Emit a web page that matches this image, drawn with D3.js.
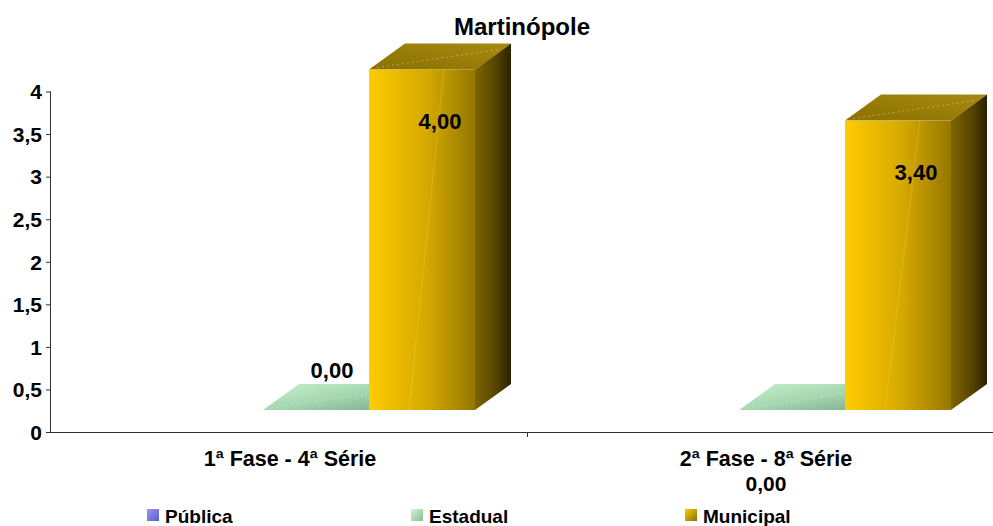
<!DOCTYPE html>
<html>
<head>
<meta charset="utf-8">
<script src="https://cdn.jsdelivr.net/npm/d3@7"></script>
<style>
  html, body { margin: 0; padding: 0; background: #fff; }
  svg { display: block; font-family: "Liberation Sans", Arial, sans-serif; font-weight: bold; }
</style>
</head>
<body>
<svg id="chart" width="993" height="526"></svg>
<script>
// Chart data
const title = "Martinópole";
const categories = ["1ª Fase - 4ª Série", "2ª Fase - 8ª Série"];
const seriesNames = ["Pública", "Estadual", "Municipal"];
const publica = [null, null];
const estadual = [0, 0];
const municipal = [4.0, 3.4];
const yTicks = [0, 0.5, 1, 1.5, 2, 2.5, 3, 3.5, 4];

const seriesValues = [publica, estadual, municipal];
const fmt = v => d3.format(".2f")(v).replace(".", ",");
const fmtTick = v => String(v).replace(".", ",");

const svg = d3.select("#chart");
const defs = svg.append("defs");

// Gradients for each series faces
function linGrad(id, x1, y1, x2, y2, stops) {
  const g = defs.append("linearGradient").attr("id", id)
    .attr("x1", x1).attr("y1", y1).attr("x2", x2).attr("y2", y2);
  stops.forEach(([o, c]) => g.append("stop").attr("offset", o).attr("stop-color", c));
}
linGrad("munFront", 0, 0, 1, 0, [[0, "#ffcc00"], [0.55, "#d4a800"], [1, "#957700"]]);
linGrad("munSide", 0, 0, 1, 0, [[0, "#7e6500"], [0.6, "#544300"], [1, "#2a2100"]]);
linGrad("munTop", 0, 1, 1, 0, [[0, "#8a7000"], [1, "#a68a10"]]);
linGrad("estTop", 0, 0, 1, 1, [[0, "#c6f0cc"], [0.5, "#a6d8b0"], [1, "#7aa88a"]]);
linGrad("pubLeg", 0, 0, 1, 1, [[0, "#9a9af0"], [1, "#5c5cc8"]]);
linGrad("estLeg", 0, 0, 1, 1, [[0, "#d0f4d4"], [1, "#88c098"]]);
linGrad("munLeg", 0, 0, 1, 1, [[0, "#ffcc00"], [1, "#8a6e00"]]);

const faceFill = {
  "Pública": { front: "#7070d8", side: "#4848a0", top: "#9090e8" },
  "Estadual": { front: "#a6d8b0", side: "#78a888", top: "url(#estTop)" },
  "Municipal": { front: "url(#munFront)", side: "url(#munSide)", top: "url(#munTop)" }
};
const legendFill = { "Pública": "url(#pubLeg)", "Estadual": "url(#estLeg)", "Municipal": "url(#munLeg)" };

// Scales
const plotLeft = 51, plotBottom = 432;
const y = d3.scaleLinear().domain([0, 4]).range([plotBottom, 91.5]);
const x0 = d3.scaleBand().domain(categories).range([plotLeft, 1003]);
const x1 = d3.scaleBand().domain(seriesNames).range([106, 424]);

// 3D projection of the bars
const depthX = 36, depthY = 26, frontLift = 22;

// Title
svg.append("text").attr("x", 522).attr("y", 35).attr("text-anchor", "middle")
  .attr("font-size", 24).attr("fill", "#000").text(title);

// Bars
const bars = [];
seriesNames.forEach((s, si) => {
  categories.forEach((c, ci) => {
    const v = seriesValues[si][ci];
    if (v === null || v === undefined) return;
    bars.push({ s, c, ci, v });
  });
});

const gBars = svg.append("g");
bars.forEach(b => {
  const xl = x0(b.c) + x1(b.s);
  const xr = xl + x1.bandwidth();
  const yb = y(0) - frontLift;
  const yt = y(b.v) - frontLift;
  const f = faceFill[b.s];
  const g = gBars.append("g");
  // top face
  g.append("path")
    .attr("d", `M${xl},${yt}L${xr},${yt}L${xr + depthX},${yt - depthY}L${xl + depthX},${yt - depthY}Z`)
    .attr("fill", f.top);
  // faint texture streak across the top
  g.append("line")
    .attr("x1", xl + 8).attr("y1", yt - 2)
    .attr("x2", xr + depthX - 12).attr("y2", yt - depthY + 6)
    .attr("stroke", "rgba(255,255,255,0.35)").attr("stroke-width", 1)
    .attr("stroke-dasharray", "2,3");
  if (yb - yt > 0.5) {
    // side face
    g.append("path")
      .attr("d", `M${xr},${yt}L${xr + depthX},${yt - depthY}L${xr + depthX},${yb - depthY}L${xr},${yb}Z`)
      .attr("fill", f.side);
    // front face
    g.append("rect").attr("x", xl).attr("y", yt).attr("width", xr - xl).attr("height", yb - yt)
      .attr("fill", f.front);
    g.append("line")
      .attr("x1", xl + 40).attr("y1", yb).attr("x2", xl + 75).attr("y2", yt)
      .attr("stroke", "rgba(255,230,120,0.18)").attr("stroke-width", 1.5);
  }
});

// Axes
const axisColor = "#333";
const gY = svg.append("g").attr("transform", `translate(${plotLeft},0)`)
  .call(d3.axisLeft(y).tickValues(yTicks).tickFormat(fmtTick).tickSize(5).tickPadding(4));
gY.select(".domain").attr("stroke", axisColor).attr("d", `M-0.5,${y(4)}V${plotBottom}`);
gY.selectAll(".tick line").attr("stroke", axisColor);
gY.selectAll(".tick text").attr("font-size", 21).attr("font-family", "Liberation Sans, Arial, sans-serif")
  .attr("font-weight", "bold").attr("fill", "#000").attr("dy", "0.35em");

const gX = svg.append("g").attr("transform", `translate(0,${plotBottom})`);
gX.append("line").attr("x1", plotLeft - 0.5).attr("x2", 1003).attr("y1", 0.5).attr("y2", 0.5).attr("stroke", axisColor);
x0.domain().forEach(c => {
  const xe = x0(c) + x0.bandwidth();
  gX.append("line").attr("x1", Math.round(xe) + 0.5).attr("x2", Math.round(xe) + 0.5)
    .attr("y1", 0).attr("y2", 5).attr("stroke", axisColor);
});
gX.selectAll("text.cat").data(categories).join("text").attr("class", "cat")
  .attr("x", c => x0(c) + x0.bandwidth() / 2 + 1).attr("y", 34)
  .attr("text-anchor", "middle").attr("font-size", 21.5).attr("fill", "#000").text(c => c);

// Value labels
bars.forEach(b => {
  const xl = x0(b.c) + x1(b.s);
  const cx = xl + (x1.bandwidth() + depthX) / 2;
  const yt = y(b.v) - frontLift;
  let lx = cx, ly, size = 22;
  if (b.v > 0) {
    ly = yt + 59;
  } else if (b.ci === 0) {
    lx = cx - 2;
    ly = yt - 32;
  } else {
    // placed beneath the category name
    lx = x0(b.c) + x0.bandwidth() / 2 + 1;
    ly = plotBottom + 59;
    size = 21;
  }
  svg.append("text").attr("x", lx).attr("y", ly).attr("text-anchor", "middle")
    .attr("font-size", size).attr("fill", "#000").text(fmt(b.v));
});

// Legend
const legendX = [147, 411, 685];
const gL = svg.append("g");
seriesNames.forEach((s, i) => {
  gL.append("rect").attr("x", legendX[i]).attr("y", 509).attr("width", 12).attr("height", 12)
    .attr("fill", legendFill[s]);
  gL.append("text").attr("x", legendX[i] + 18).attr("y", 523).attr("font-size", 19)
    .attr("fill", "#000").text(s);
});
</script>
</body>
</html>
